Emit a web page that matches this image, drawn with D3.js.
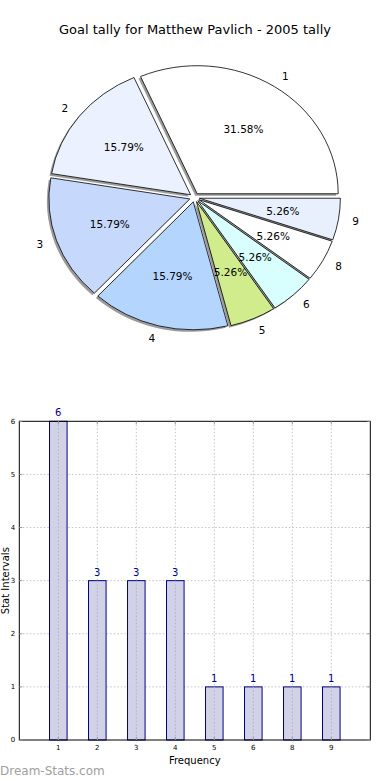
<!DOCTYPE html>
<html><head><meta charset="utf-8">
<script src="https://cdn.jsdelivr.net/npm/d3@7"></script>
<style>body{margin:0;background:#fff}svg{display:block;font-family:"DejaVu Sans",sans-serif}</style>
</head><body><svg id="c" width="390" height="780"></svg>
<script>
const title = "Goal tally for Matthew Pavlich - 2005 tally";
const categories = ["1","2","3","4","5","6","8","9"];
const values = [6,3,3,3,1,1,1,1];
const pieColors = ["#ffffff","#ebf1fe","#c6d9fd","#b4d5fe","#d0ec8c","#d8fefe","#ffffff","#e9f0fd"];
const yTicks = [0,1,2,3,4,5,6];
const xLabel = "Frequency", yLabel = "Stat Intervals", watermark = "Dream-Stats.com";

const svg = d3.select("#c");
svg.append("text").attr("x",195).attr("y",34).attr("text-anchor","middle")
  .attr("font-size",13).text(title);

// Pie (elliptical, exploded, shadow)
const cx = 194.5, cy = 197.5, rx = 141, ry = 128, expl = 0.035;
const total = d3.sum(values);
const pie = d3.pie().sort(null).startAngle(Math.PI/2).endAngle(Math.PI/2 - 2*Math.PI);
const arcs = pie(values);
const arc = d3.arc().innerRadius(0).outerRadius(1);
const pg = svg.append("g");
arcs.forEach((a,i)=>{
  const m = (a.startAngle + a.endAngle)/2;
  a.ox = cx + expl*rx*Math.sin(m); a.oy = cy - expl*ry*Math.cos(m); a.m = m;
});
arcs.forEach((a,i)=>{
  pg.append("path").attr("d",arc(a))
    .attr("transform",`translate(${a.ox-2},${a.oy+2}) scale(${rx},${ry})`)
    .attr("fill","#8a8a8a").attr("opacity",0.85);
});
arcs.forEach((a,i)=>{
  pg.append("path").attr("d",arc(a))
    .attr("transform",`translate(${a.ox},${a.oy}) scale(${rx},${ry})`)
    .attr("fill",pieColors[i]).attr("stroke","#000").attr("stroke-width",0.8)
    .attr("vector-effect","non-scaling-stroke");
});
arcs.forEach((a,i)=>{
  const sx = Math.sin(a.m), sy = -Math.cos(a.m);
  const lx = a.ox + 1.1*rx*sx, ly = a.oy + 1.1*ry*sy;
  pg.append("text").attr("x",lx).attr("y",ly).attr("dy","0.35em")
    .attr("text-anchor", lx > cx ? "start" : "end").attr("font-size",10.5)
    .text(categories[i]);
  const px = a.ox + 0.6*rx*sx, py = a.oy + 0.6*ry*sy;
  pg.append("text").attr("x",px).attr("y",py).attr("dy","0.35em")
    .attr("text-anchor","middle").attr("font-size",10.5)
    .text((values[i]/total*100).toFixed(2)+"%");
});

// Bar chart
const L = 19.3, R = 370.3, T = 421.3, B = 740;
const x = d3.scaleLinear().domain([0, categories.length+1]).range([L,R]);
const y = d3.scaleLinear().domain([0,6]).range([B,T]);
const bw = x(0.45)-x(0);
const bg = svg.append("g");
yTicks.slice(1,-1).forEach(t=>{
  bg.append("line").attr("x1",L).attr("x2",R).attr("y1",y(t)).attr("y2",y(t))
    .attr("stroke","#c4c4c4").attr("stroke-dasharray","1.5,2");
});
categories.forEach((c,i)=>{
  bg.append("line").attr("x1",x(i+1)).attr("x2",x(i+1)).attr("y1",T).attr("y2",B)
    .attr("stroke","#c4c4c4").attr("stroke-dasharray","1.5,2");
});
values.forEach((v,i)=>{
  bg.append("rect").attr("x",x(i+1)-bw/2).attr("y",y(v)).attr("width",bw).attr("height",y(0)-y(v))
    .attr("fill","#cdcde4").attr("fill-opacity",0.9).attr("stroke","#000080").attr("stroke-width",1);
  bg.append("line").attr("x1",x(i+1)).attr("x2",x(i+1)).attr("y1",y(v)).attr("y2",B)
    .attr("stroke","#b0b0c8").attr("stroke-dasharray","1.5,2");
  bg.append("text").attr("x",x(i+1)).attr("y",y(v)-5).attr("text-anchor","middle")
    .attr("font-size",10).attr("fill","#00008b").text(v);
});
bg.append("rect").attr("x",L).attr("y",T).attr("width",R-L).attr("height",B-T)
  .attr("fill","none").attr("stroke","#000").attr("stroke-width",1);
yTicks.forEach(t=>{
  bg.append("line").attr("x1",L).attr("x2",L+3).attr("y1",y(t)).attr("y2",y(t)).attr("stroke","#999");
  bg.append("line").attr("x1",R-3).attr("x2",R).attr("y1",y(t)).attr("y2",y(t)).attr("stroke","#999");
  bg.append("text").attr("x",L-4).attr("y",y(t)).attr("dy","0.35em").attr("text-anchor","end")
    .attr("font-size",7).text(t);
});
categories.forEach((c,i)=>{
  bg.append("line").attr("x1",x(i+1)).attr("x2",x(i+1)).attr("y1",T).attr("y2",T+3).attr("stroke","#999");
  bg.append("line").attr("x1",x(i+1)).attr("x2",x(i+1)).attr("y1",B-3).attr("y2",B).attr("stroke","#999");
  bg.append("text").attr("x",x(i+1)).attr("y",B+10).attr("text-anchor","middle")
    .attr("font-size",7).text(c);
});
bg.append("text").attr("x",(L+R)/2).attr("y",B+24).attr("text-anchor","middle")
  .attr("font-size",10).text(xLabel);
bg.append("text").attr("transform",`translate(8.5,${(T+B)/2}) rotate(-90)`).attr("text-anchor","middle")
  .attr("font-size",10).text(yLabel);
svg.append("text").attr("x",0).attr("y",775).attr("font-size",12).attr("fill","#a0a0a0").text(watermark);
</script></body></html>
